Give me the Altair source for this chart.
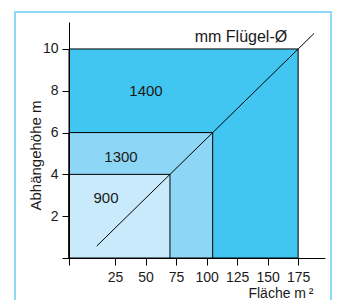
import altair as alt
import pandas as pd

# Data
diam_labels = ["1400", "1300", "900"]          # mm Flügel-Ø
areas = [175, 105, 70]                         # Fläche m²
heights = [10, 6, 4]                           # Abhängehöhe m
colors = ["#41C6F2", "#8DD6F5", "#C8EAFA"]

label_x = [50.4, 29.9, 17.6]
label_y = [8.0, 4.85, 2.85]

line_x = [10, 188]
line_y = [0.57, 10.74]

note_text = ["mm Flügel-Ø"]
note_x = [166]
note_y = [10.33]

x_ticks = [-12.7, 25, 50, 75, 100, 125, 150, 175]
y_ticks = [0, 2, 4, 6, 8, 10]
x_domain = [-12.7, 197]
y_domain = [0, 11.29]

FONT = "Liberation Sans"

rects = pd.DataFrame({"label": diam_labels, "area": areas, "height": heights,
                      "color": colors, "lx": label_x, "ly": label_y})
line_df = pd.DataFrame({"x": line_x, "y": line_y})
note_df = pd.DataFrame({"t": note_text, "x": note_x, "y": note_y})

xs = alt.Scale(domain=x_domain, nice=False, zero=False)
ys = alt.Scale(domain=y_domain, nice=False, zero=False)

x_axis = alt.Axis(values=x_ticks, labelExpr="datum.value < 0 ? '' : datum.label",
                  grid=False, tickSize=7, labelPadding=5, zindex=1,
                  title="Fläche m\u2009²", titleAlign="right", titleAnchor="start",
                  titleX=244, titleY=39, titleBaseline="alphabetic")
y_axis = alt.Axis(values=y_ticks, labelExpr="datum.value == 0 ? '' : datum.label",
                  grid=False, tickSize=7, labelPadding=4, zindex=1,
                  title="Abhängehöhe m", titleAngle=270, titleAlign="center",
                  titleAnchor="start", titleX=-29, titleY=133,
                  titleBaseline="alphabetic")

frame = alt.Chart(note_df).mark_rect(fillOpacity=0, stroke="#8FD8F5", strokeWidth=2).encode(
    x=alt.value(-54), x2=alt.value(262), y=alt.value(-10), y2=alt.value(320)
)

boxes = alt.Chart(rects).mark_rect(stroke="black", strokeWidth=1).encode(
    x=alt.X("area:Q", scale=xs, axis=x_axis),
    x2=alt.value(0),
    y=alt.Y("height:Q", scale=ys, axis=y_axis),
    y2=alt.datum(0),
    color=alt.Color("color:N", scale=None),
)

diag = alt.Chart(line_df).mark_line(color="black", strokeWidth=1).encode(
    x=alt.X("x:Q", scale=xs, axis=x_axis), y=alt.Y("y:Q", scale=ys, axis=y_axis)
)

texts = alt.Chart(rects).mark_text(font=FONT, fontSize=15, color="#1a1a1a").encode(
    x=alt.X("lx:Q", scale=xs, axis=x_axis), y=alt.Y("ly:Q", scale=ys, axis=y_axis),
    text="label:N"
)

note = alt.Chart(note_df).mark_text(font=FONT, fontSize=16, align="right",
                                    baseline="alphabetic", color="#1a1a1a").encode(
    x=alt.X("x:Q", scale=xs, axis=x_axis), y=alt.Y("y:Q", scale=ys, axis=y_axis),
    text="t:N"
)

chart = alt.layer(frame, boxes, diag, texts, note).properties(
    width=256, height=236,
    autosize=alt.AutoSizeParams(type="none"),
    padding={"left": 61, "top": 14, "right": 7, "bottom": 42},
).configure_view(stroke=None).configure_axis(
    labelFont=FONT, labelFontSize=14, labelColor="#1a1a1a", domainColor="black",
    tickColor="black", titleFont=FONT, titleFontSize=14, titleFontWeight="normal",
    titleColor="#1a1a1a"
).configure_axisY(titleFontSize=15)

chart.save("out.html", embed_options={"renderer": "svg", "actions": False})
